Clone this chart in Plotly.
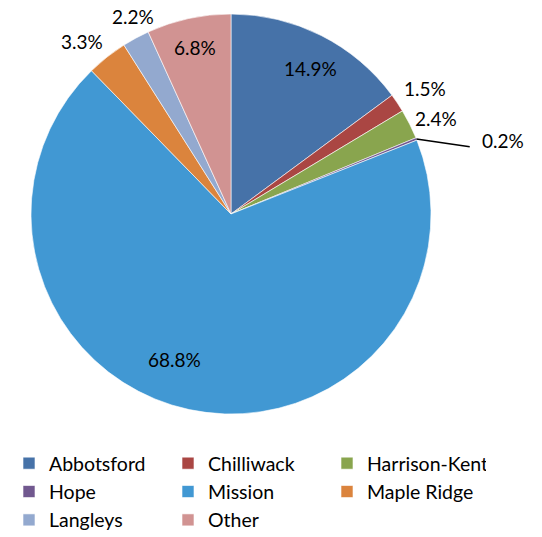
import math
import plotly.graph_objects as go

labels = ["Abbotsford", "Chilliwack", "Harrison-Kent", "Hope", "Mission",
          "Maple Ridge", "Langleys", "Other"]
values = [14.9, 1.5, 2.4, 0.2, 68.8, 3.3, 2.2, 6.8]
colors = ["#4672A8", "#AA4643", "#89A54E", "#71588F", "#4198D3",
          "#DB843D", "#93A9CF", "#D19392"]

# style: label placement (radius factor, angular offset in degrees)
label_r = [0.83, 1.154, 1.13, 1.41, 0.78, 1.14, 1.10, 0.85]
label_da = [1.9, 0.9, 1.8, 7.0, 9.0, -2.6, 2.1, 0.0]
leader_index = 3
leader_end_r, leader_end_da = 1.24, 6.3

W, H = 542, 537
cx, cy, R = 231, 214, 200
FONT = "Lato"

fig = go.Figure(go.Pie(
    labels=labels, values=values, sort=False, direction="clockwise",
    rotation=0, textinfo="none", hoverinfo="label+percent",
    marker=dict(colors=colors, line=dict(color="white", width=0.6)),
    domain=dict(x=[(cx - R) / W, (cx + R) / W], y=[1 - (cy + R) / H, 1 - (cy - R) / H]),
))

total = sum(values)
cum = 0.0
annotations = []
shapes = []
for i, v in enumerate(values):
    mid = (cum + v / 2) / total * 360
    cum += v
    a = math.radians(mid + label_da[i])
    px = cx + R * label_r[i] * math.sin(a)
    py = cy - R * label_r[i] * math.cos(a)
    annotations.append(dict(x=px / W, y=1 - py / H, xref="paper", yref="paper",
                            text=f"{v:.1f}%", showarrow=False,
                            font=dict(family=FONT, size=19, color="#000000"),
                            xanchor="center", yanchor="middle"))
    if i == leader_index:
        a0 = math.radians(mid)
        x0 = cx + R * math.sin(a0)
        y0 = cy - R * math.cos(a0)
        a1 = math.radians(mid + leader_end_da)
        x1 = cx + R * leader_end_r * math.sin(a1)
        y1 = cy - R * leader_end_r * math.cos(a1)
        shapes.append(dict(type="line", xref="paper", yref="paper",
                           x0=x0 / W, y0=1 - y0 / H, x1=x1 / W, y1=1 - y1 / H,
                           line=dict(color="#000000", width=1.5)))

fig.update_layout(
    width=W, height=H, margin=dict(l=0, r=0, t=0, b=0, autoexpand=False),
    paper_bgcolor="white", plot_bgcolor="white",
    annotations=annotations, shapes=shapes,
    font=dict(family=FONT, size=19.5, color="#000000"),
    legend=dict(orientation="h", x=9 / W, y=1 - 444 / H, xanchor="left", yanchor="top",
                entrywidth=114, entrywidthmode="pixels",
                font=dict(family=FONT, size=19.5, color="#000000"),
                traceorder="normal"),
)

fig.write_html("out.html", config={"displayModeBar": False},
               post_script="document.body.style.margin='0';document.body.style.overflow='hidden';")
